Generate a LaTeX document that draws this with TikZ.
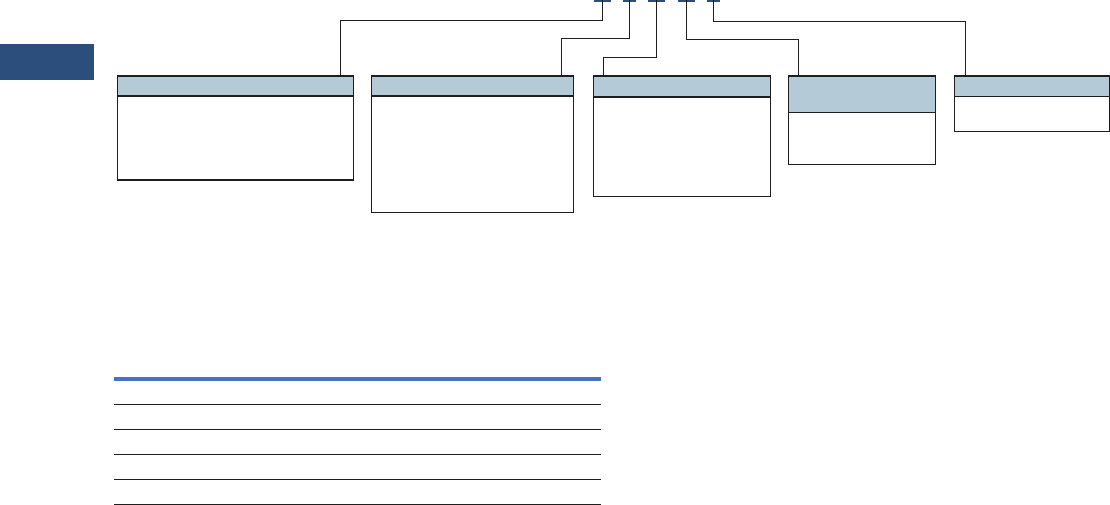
\documentclass[tikz,border=0pt]{standalone}
\usetikzlibrary{positioning,calc}
\definecolor{ink}{HTML}{1E1E1E}
\definecolor{navy}{HTML}{2B4E7C}
\definecolor{hdrfill}{HTML}{B5CAD7}
\definecolor{rulblue}{HTML}{4472C4}
\tikzset{
  box/.style={draw=ink, line width=1.1pt, fill=white, inner sep=0pt, anchor=north west},
  hdr/.style={box, fill=hdrfill},
  tabmark/.style={fill=navy, draw=none, inner sep=0pt, minimum height=4pt},
  wire/.style={draw=ink, line width=1.1pt},
  rulerow/.style={draw=ink, line width=1.1pt},
  rulehead/.style={draw=rulblue, line width=3.7pt},
}
\begin{document}
\begin{tikzpicture}[x=1pt, y=-1pt]
\useasboundingbox (0,0) rectangle (1110,505);

% --- side block ---
\node[fill=navy, inner sep=0pt, anchor=north west, minimum width=94pt, minimum height=36pt] (side) at (0,44) {};

% --- boxes ---
\node[box, minimum width=236.5pt, minimum height=104pt] (box1) at (116.5,75.5) {};
\node[hdr, minimum width=236.5pt, minimum height=20pt] (hd1) at (116.5,75.5) {};
\node[box, minimum width=202pt, minimum height=136.8pt] (box2) at (371.3,75.5) {};
\node[hdr, minimum width=202pt, minimum height=20pt] (hd2) at (371.3,75.5) {};
\node[box, minimum width=177pt, minimum height=120.8pt] (box3) at (593.3,75.5) {};
\node[hdr, minimum width=177pt, minimum height=21pt] (hd3) at (593.3,75.5) {};
\node[box, minimum width=147pt, minimum height=88.8pt] (box4) at (788.3,75.5) {};
\node[hdr, minimum width=147pt, minimum height=36.5pt] (hd4) at (788.3,75.5) {};
\node[box, minimum width=155.6pt, minimum height=55.8pt] (box5) at (953.7,75.5) {};
\node[hdr, minimum width=155.6pt, minimum height=20.2pt] (hd5) at (953.7,75.5) {};

% --- tabs along the top ---
\node[tabmark, minimum width=17pt] (tab1) at (602.5,0) {};
\node[tabmark, minimum width=12.4pt] (tab2) at (629.5,0) {};
\node[tabmark, minimum width=17pt] (tab3) at (656.5,0) {};
\node[tabmark, minimum width=17pt] (tab4) at (686.5,0) {};
\node[tabmark, minimum width=12.7pt] (tab5) at (713.7,0) {};

% --- drop points on the headers ---
\coordinate (in1) at (340.5,75.5);
\coordinate (in2) at (561.3,75.5);
\coordinate (in3) at (603.3,75.5);
\coordinate (in4) at (798.7,75.5);
\coordinate (in5) at (965.3,75.5);

% --- connectors ---
\draw[wire] (tab1.center) -- (tab1.center |- 0,20.5) -| (in1);
\draw[wire] (tab2.center) -- (tab2.center |- 0,38.3) -| (in2);
\draw[wire] (tab3.center) -- (tab3.center |- 0,57.3) -| (in3);
\draw[wire] (tab4.center) -- (tab4.center |- 0,39.3) -| (in4);
\draw[wire] (tab5.center) -- (tab5.center |- 0,21.3) -| (in5);

% --- table rules ---
\draw[rulehead] (114,379) -- (601,379);
\foreach \y in {404.3,429.3,454.3,479.3,504.3}
  \draw[rulerow] (114,\y) -- (601,\y);

\end{tikzpicture}
\end{document}
